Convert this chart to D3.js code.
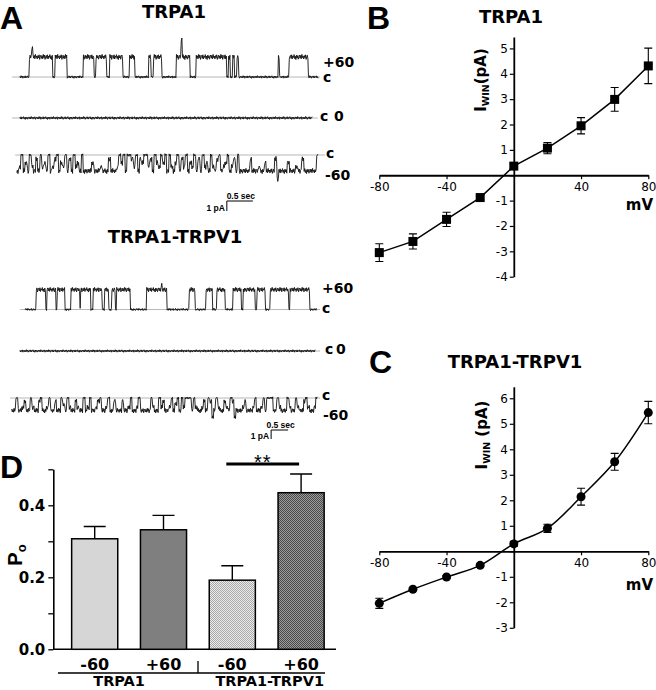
<!DOCTYPE html>
<html>
<head>
<meta charset="utf-8">
<script src="https://cdnjs.cloudflare.com/ajax/libs/d3/7.8.5/d3.min.js"></script>
<style>
body{margin:0;background:#fff;}
text{font-family:"DejaVu Sans",Verdana,sans-serif;fill:#000;}
.arial{font-family:"Liberation Sans",Arial,sans-serif;}
</style>
</head>
<body>
<div id="container"></div>
<script>
/**
 * DATA
 * */
// I-V curves (panels B, C)
const ivVoltages = [-80, -60, -40, -20, 0, 20, 40, 60, 80];
const ivTRPA1 = [-3.05, -2.61, -1.74, -0.88, 0.36, 1.07, 1.95, 2.99, 4.31];
const ivTRPA1Err = [0.35, 0.3, 0.28, 0.08, 0.1, 0.22, 0.32, 0.47, 0.7];
const ivHetero = [-2.04, -1.49, -1.01, -0.55, 0.29, 0.9, 2.14, 3.51, 5.44];
const ivHeteroErr = [0.2, 0.06, 0.06, 0.06, 0.1, 0.16, 0.33, 0.33, 0.44];
const ivXTicks = [-80, -40, 40, 80];

// open probability (panel D)
const poGroups = ["TRPA1", "TRPA1-TRPV1"];
const poVoltages = ["-60", "+60", "-60", "+60"];
const poValues = [0.307, 0.332, 0.192, 0.435];
const poErr = [0.034, 0.04, 0.04, 0.052];

// single channel records (panel A), times in s, levels in units of unitary amplitude
const traceLabels = ["+60", "0", "-60", "+60", "0", "-60"];
const traceAmps = [2.0, 0, -1.6, 2.2, 0, -1.4];          // pA
const traceSpans = [[0.19, 5.92], [0.19, 5.81], [0.13, 5.92], [0.44, 9.02], [0.29, 8.97], [0.05, 9.03]];
const closedLineSpans = [[0.04, 5.96], [0.04, 5.92], [0.10, 6.06], [0.29, 9.12], [0.29, 9.12], [0.0, 9.12]];

// TRPA1 +60 : [start, end, level]
const trace1Events = [
  [0.37, 0.82, 1], [0.86, 1.09, 1], [1.41, 1.62, 1], [1.65, 1.86, 1], [1.92, 2.17, 1],
  [2.29, 2.40, 1], [2.67, 2.71, 1], [2.76, 2.92, 1], [3.19, 3.46, 1], [3.58, 4.17, 1],
  [4.20, 4.23, 1], [4.28, 4.31, 1], [4.36, 4.40, 1], [5.16, 5.18, 1], [5.36, 5.74, 1],
  [0.42, 0.44, 1.5], [3.29, 3.31, 1.9]
];
// TRPA1-TRPV1 +60
const trace4Events = [
  [0.76, 1.05, 1], [1.08, 1.35, 1], [1.38, 1.62, 1], [1.79, 2.05, 1], [2.08, 2.38, 1],
  [2.45, 2.71, 1], [2.77, 2.91, 1], [2.99, 3.09, 1], [3.14, 3.53, 1], [4.02, 4.61, 1],
  [5.26, 5.44, 1], [5.76, 5.96, 1], [6.08, 6.32, 1], [6.55, 6.81, 1], [6.85, 7.21, 1],
  [7.26, 7.50, 1], [7.65, 8.20, 1], [8.23, 8.82, 1], [4.45, 4.47, 1.35]
];
// flickery -60 records, one digit per bin, level = digit / 4 (4 = fully open)
const trace3Bins = "430424034140324043104230414032404" + "4442444344414443" +
  "02040013041200314023020" + "403420413042304140324034104320431404" +
  "4444144434424444164444244434414444" + "440";
const trace3Bin = 0.04;
const trace6Bins = "44044314403441044304414402" + "4034413440430443104430441" + "4441443044304444" +
  "403440314430420403" + "000" + "40344314016403441340164" + "44314443044304000440344" + "4034403441034430";
const trace6Bin = 0.06;

// recording noise, pA
const noise = [0.06, -0.09, 0.13, -0.04, 0.1, -0.12, 0.03, 0.08, -0.07, 0.11, -0.1, 0.05, -0.02,
  0.12, -0.08, 0.04, -0.13, 0.09, -0.05, 0.07, -0.11, 0.02, 0.1, -0.06, 0.08, -0.09, 0.13,
  -0.03, 0.05, -0.1, 0.07, -0.04, 0.11, -0.12, 0.01, 0.09, -0.07];

/**
 * SETUP
 * */
const width = 656, height = 690;
const svg = d3.select("#container").append("svg")
  .attr("width", width).attr("height", height);

const defs = svg.append("defs");
function checker(id, bg, fg) {
  const p = defs.append("pattern").attr("id", id)
    .attr("width", 2).attr("height", 2).attr("patternUnits", "userSpaceOnUse");
  p.append("rect").attr("width", 2).attr("height", 2).attr("fill", bg);
  p.append("rect").attr("width", 1).attr("height", 1).attr("fill", fg);
  p.append("rect").attr("x", 1).attr("y", 1).attr("width", 1).attr("height", 1).attr("fill", fg);
}
checker("chkLight", "#ebebeb", "#a8a8a8");
checker("chkDark", "#9a9a9a", "#4a4a4a");

function label(x, y, txt, size, opts = {}) {
  return svg.append("text").attr("x", x).attr("y", y).text(txt)
    .attr("font-size", size).attr("font-weight", opts.weight || "bold")
    .attr("text-anchor", opts.anchor || "start")
    .attr("class", opts.cls || null);
}

// panel letters + titles
label(0, 29, "A", 32, {cls: "arial"});
label(367, 29, "B", 32, {cls: "arial"});
label(369, 373, "C", 32, {cls: "arial"});
label(0, 478, "D", 32, {cls: "arial"});
label(174, 18, "TRPA1", 18, {anchor: "middle"});
label(175, 243, "TRPA1-TRPV1", 18, {anchor: "middle"});
label(511, 23, "TRPA1", 18, {anchor: "middle"});
label(515, 368, "TRPA1-TRPV1", 18, {anchor: "middle"});

/**
 * PANEL A - single channel traces
 * */
const topX = d3.scaleLinear().domain([0, 1]).range([10, 62]);   // 52 px / s
const botX = d3.scaleLinear().domain([0, 1]).range([10, 44]);   // 34 px / s
const traceBases = [77, 118, 155, 309.5, 351, 398];
const tracePx = [10, 10, 10, 9, 9, 9];

function levelFn(i) {
  if (i === 0 || i === 3) {
    const ev = i === 0 ? trace1Events : trace4Events;
    return t => {
      let l = 0;
      ev.forEach(e => { if (t >= e[0] && t < e[1]) l = e[2]; });
      return l;
    };
  }
  if (i === 2 || i === 5) {
    const bins = i === 2 ? trace3Bins : trace6Bins;
    const bw = i === 2 ? trace3Bin : trace6Bin;
    const t0 = traceSpans[i][0];
    return t => {
      const k = Math.min(bins.length - 1, Math.max(0, Math.floor((t - t0) / bw)));
      return +bins[k] / 4;
    };
  }
  return () => 0;
}

traceLabels.forEach((lab, i) => {
  const xs = i < 3 ? topX : botX;
  const ys = d3.scaleLinear().domain([0, 1]).range([traceBases[i], traceBases[i] - tracePx[i]]);
  const g = svg.append("g");
  // closed level line
  g.append("line")
    .attr("x1", xs(closedLineSpans[i][0])).attr("x2", xs(closedLineSpans[i][1]))
    .attr("y1", ys(0)).attr("y2", ys(0))
    .attr("stroke", "#9a9a9a").attr("stroke-width", 0.7);
  const lev = levelFn(i);
  const dt = 0.6 / (xs(1) - xs(0));
  const pts = [];
  const [t0, t1] = traceSpans[i];
  const n = Math.round((t1 - t0) / dt);
  for (let k = 0; k <= n; k++) {
    const t = t0 + k * dt;
    const l = lev(t);
    const mult = traceAmps[i] === 0 ? 1.1 : (l > 0 ? 2.0 : 1.0);
    pts.push([t, l * traceAmps[i] + noise[(k + i * 7) % noise.length] * mult]);
  }
  g.append("path")
    .datum(pts)
    .attr("d", d3.line().x(d => xs(d[0])).y(d => ys(d[1])))
    .attr("fill", "none").attr("stroke", "#111").attr("stroke-width", 0.9)
    .attr("stroke-linejoin", "round");
});

// trace labels
[[323, 67], [336, 121], [325, 180], [322, 293], [338, 354], [323, 420]].forEach((p, i) => {
  label(p[0] + (traceLabels[i] === "0" ? -2 : 0), p[1], traceLabels[i], 14);
});
[[323, 82], [320, 121], [326, 158], [322, 313], [325, 354], [322, 400]].forEach(p => {
  label(p[0], p[1], "c", 14);
});

// scale bars
function scaleBar(xs, t, x0y, pxPA) {
  const x0 = xs(t), x1 = xs(t + 0.5);
  svg.append("path")
    .attr("d", `M${x1},${x0y}H${x0}V${x0y + pxPA}`)
    .attr("fill", "none").attr("stroke", "#000").attr("stroke-width", 1);
  label((x0 + x1) / 2 + 1, x0y - 2.5, "0.5 sec", 8.5, {anchor: "middle", cls: "arial"});
  label(x0 - 2, x0y + pxPA - 0.5, "1 pA", 8.5, {anchor: "end", cls: "arial"});
}
scaleBar(topX, 4.17, 201, 10);
scaleBar(botX, 7.68, 430, 9);

/**
 * PANELS B, C - I/V curves
 * */
function ivPanel(vals, errs, yDomain, yRange, yTicks, marker, curve, mvY, labY, spaced) {
  const x = d3.scaleLinear().domain([-80, 80]).range([379.3, 648.3]);
  const y = d3.scaleLinear().domain(yDomain).range(yRange);
  const g = svg.append("g");

  const xAxis = g.append("g").attr("transform", `translate(0,${y(0)})`)
    .call(d3.axisBottom(x).tickValues(ivXTicks).tickSize(4).tickSizeOuter(0).tickPadding(3)
      .tickFormat(d => String(d)));
  const yAxis = g.append("g").attr("transform", `translate(${x(0)},0)`)
    .call(d3.axisLeft(y).tickValues(yTicks).tickSize(4).tickSizeOuter(0).tickPadding(2)
      .tickFormat(d => d === 0 ? "" : String(d)));
  [xAxis, yAxis].forEach(a => {
    a.select(".domain").attr("stroke-width", 1.8);
    a.selectAll(".tick line").attr("stroke-width", 1.2);
    a.selectAll("text").attr("font-size", 12)
      .attr("font-family", "Liberation Sans, Arial, sans-serif").attr("fill", "#000");
  });

  const pts = ivVoltages.map((v, i) => ({v, m: vals[i], e: errs[i]}));
  g.append("path").datum(pts)
    .attr("d", d3.line().x(d => x(d.v)).y(d => y(d.m)).curve(curve))
    .attr("fill", "none").attr("stroke", "#000").attr("stroke-width", 1.5);

  const eb = g.selectAll(".eb").data(pts).join("g");
  eb.append("path")
    .attr("d", d => `M${x(d.v) - 4},${y(d.m + d.e)}h8M${x(d.v)},${y(d.m + d.e)}V${y(d.m - d.e)}M${x(d.v) - 4},${y(d.m - d.e)}h8`)
    .attr("stroke", "#000").attr("stroke-width", 1.1).attr("fill", "none");
  if (marker === "square") {
    eb.append("rect").attr("x", d => x(d.v) - 4.5).attr("y", d => y(d.m) - 4.5)
      .attr("width", 9).attr("height", 9).attr("fill", "#000");
  } else {
    eb.append("circle").attr("cx", d => x(d.v)).attr("cy", d => y(d.m)).attr("r", 4.5).attr("fill", "#000");
  }

  label(653, mvY, "mV", 15, {anchor: "end"});
  const yl = svg.append("text")
    .attr("transform", `translate(${labY[0]},${labY[1]}) rotate(-90)`)
    .attr("text-anchor", "middle").attr("font-weight", "bold");
  yl.append("tspan").text("I").attr("font-size", 15);
  yl.append("tspan").text("WIN").attr("font-size", 9.5).attr("dy", 3);
  yl.append("tspan").text(spaced ? " (pA)" : "(pA)").attr("font-size", 15).attr("dy", -3);
}

ivPanel(ivTRPA1, ivTRPA1Err, [-4, 5.45], [276.7, 37], d3.range(-4, 6),
  "square", d3.curveLinear, 210, [486, 80], false);
ivPanel(ivHetero, ivHeteroErr, [-3, 6.45], [627.8, 386.8], d3.range(-3, 7),
  "circle", d3.curveCatmullRom, 590, [487, 435], true);

/**
 * PANEL D - open probability
 * */
const xb = d3.scaleBand().domain(d3.range(4)).range([60.3, 335.5]).paddingInner(0.33).paddingOuter(0.165);
const yp = d3.scaleLinear().domain([0, 0.5]).range([649.3, 469.3]);
const gD = svg.append("g");
const fills = ["#d6d6d6", "#7f7f7f", "url(#chkLight)", "url(#chkDark)"];

const yA = gD.append("g").attr("transform", "translate(53.3,0)")
  .call(d3.axisLeft(yp).tickValues([0, 0.1, 0.2, 0.3, 0.4, 0.5]).tickSize(5).tickSizeOuter(0).tickPadding(3)
    .tickFormat(d => [0, 0.2, 0.4].some(v => Math.abs(v - d) < 1e-9) ? d3.format(".1f")(d) : ""));
yA.select(".domain").attr("stroke-width", 1.6);
yA.selectAll(".tick line").attr("stroke-width", 1.3);
yA.selectAll("text").attr("font-size", 15).attr("font-weight", "bold")
  .attr("font-family", "Liberation Sans, Arial, sans-serif").attr("fill", "#000");

gD.append("line").attr("x1", 53.3).attr("x2", 336).attr("y1", yp(0)).attr("y2", yp(0))
  .attr("stroke", "#000").attr("stroke-width", 1.6);

// error bars (upper only)
gD.selectAll(".err").data(poValues).join("path")
  .attr("d", (d, i) => {
    const cx = xb(i) + xb.bandwidth() / 2;
    return `M${cx},${yp(d)}V${yp(d + poErr[i])}M${cx - 11},${yp(d + poErr[i])}h22`;
  })
  .attr("stroke", "#000").attr("stroke-width", 1.4).attr("fill", "none");

gD.selectAll(".bar").data(poValues).join("rect")
  .attr("x", (d, i) => xb(i)).attr("width", xb.bandwidth())
  .attr("y", d => yp(d)).attr("height", d => yp(0) - yp(d))
  .attr("fill", (d, i) => fills[i]).attr("stroke", "#000").attr("stroke-width", 1.5);

const xA = gD.append("g").attr("transform", `translate(0,${yp(0)})`)
  .call(d3.axisBottom(xb).tickSize(0).tickPadding(9).tickFormat(i => poVoltages[i]));
xA.select(".domain").remove();
xA.selectAll("text").attr("font-size", 16).attr("font-weight", "bold")
  .attr("font-family", "Liberation Sans, Arial, sans-serif").attr("fill", "#000");

// group brackets
gD.append("path").attr("d", "M58,673H325M198,661V673")
  .attr("stroke", "#000").attr("stroke-width", 1.3).attr("fill", "none");
label((xb(0) + xb(1) + xb.bandwidth()) / 2 - 10, 686, poGroups[0], 14.5, {anchor: "middle"});
label((xb(2) + xb(3) + xb.bandwidth()) / 2 + 3, 686, poGroups[1], 14.5, {anchor: "middle"});

// significance
const sx0 = xb(2) + xb.bandwidth() / 2 - 6, sx1 = xb(3) + xb.bandwidth() / 2 - 2;
gD.append("line").attr("x1", sx0).attr("x2", sx1).attr("y1", 464).attr("y2", 464)
  .attr("stroke", "#000").attr("stroke-width", 3);
label((sx0 + sx1) / 2, 469, "**", 20, {anchor: "middle", weight: "normal", cls: "arial"})
  .attr("letter-spacing", 1);

// y label
const py = svg.append("text").attr("transform", "translate(22,555) rotate(-90)")
  .attr("text-anchor", "middle").attr("font-weight", "bold").attr("class", "arial");
py.append("tspan").text("P").attr("font-size", 20);
py.append("tspan").text("o").attr("font-size", 13).attr("dy", 4);
</script>
</body>
</html>
